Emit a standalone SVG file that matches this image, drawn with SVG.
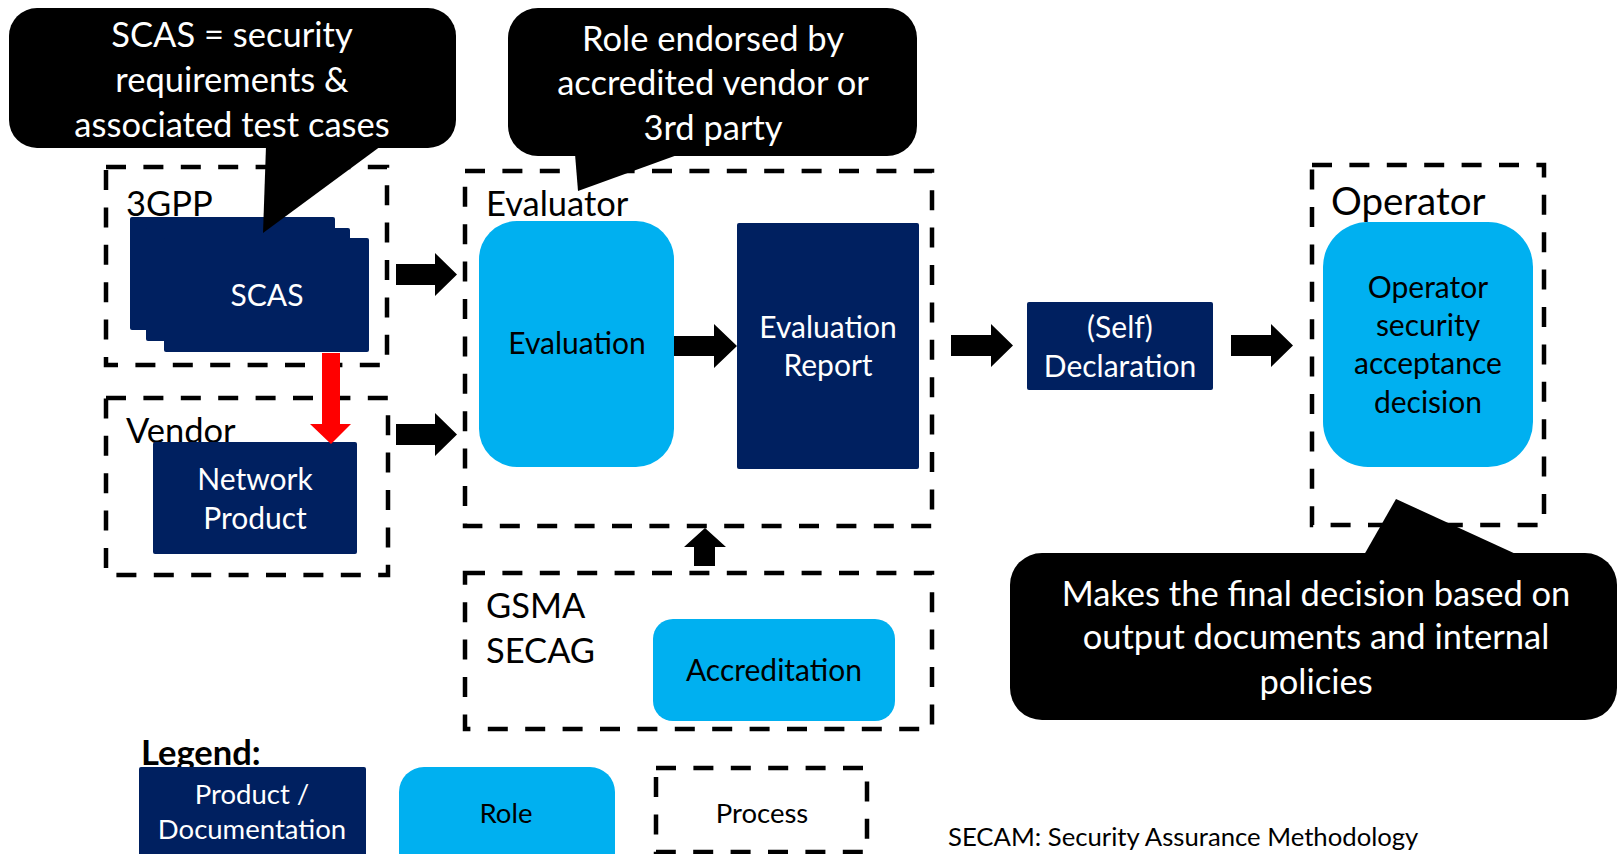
<svg xmlns="http://www.w3.org/2000/svg" width="1619" height="854" viewBox="0 0 1619 854">
<style>
text{font-family:Lato,"Noto Sans",sans-serif}
.proc{fill:none;stroke:#000;stroke-width:4.5;stroke-dasharray:20 17.4}
.doc{fill:#002060}
.role{fill:#00B0F0}
.call{fill:#000}
.t-w{fill:#fff}
.t-b{fill:#000}
.c{text-anchor:middle}
.title{font-size:34.5px}
.lbl{font-size:30px}
.callt{font-size:34.5px;fill:#fff;text-anchor:middle}
.leg{font-size:27.5px}
.arr{fill:#000}
</style>
<rect width="1619" height="854" fill="#fff"/>

<g id="proc-3gpp">
<rect class="proc" x="106" y="167" width="281" height="198"/>
<text class="t-b title" x="126" y="216">3GPP</text>
</g>
<g id="node-scas">
<rect class="doc" x="130" y="217" width="205" height="113" rx="2"/>
<rect class="doc" x="146" y="228" width="204" height="113" rx="2"/>
<rect class="doc" x="164" y="238" width="205" height="114" rx="2"/>
<text class="t-w lbl c" x="267" y="306">SCAS</text>
</g>

<g id="proc-vendor">
<rect class="proc" x="106" y="398" width="282" height="177"/>
<text class="t-b title" x="126" y="443">Vendor</text>
</g>
<g id="node-network-product">
<rect class="doc" x="153" y="442" width="204" height="112" rx="2"/>
<text class="t-w lbl c" x="255" y="490">Network</text>
<text class="t-w lbl c" x="255" y="529">Product</text>
</g>

<g id="proc-evaluator">
<rect class="proc" x="465" y="171" width="467" height="355"/>
<text class="t-b title" x="486" y="216">Evaluator</text>
</g>
<g id="node-evaluation">
<rect class="role" x="479" y="221" width="195" height="246" rx="38"/>
<text class="t-b lbl c" x="577" y="354">Evaluation</text>
</g>
<g id="node-evaluation-report">
<rect class="doc" x="737" y="223" width="182" height="246" rx="2"/>
<text class="t-w lbl c" x="828" y="338">Evaluation</text>
<text class="t-w lbl c" x="828" y="376">Report</text>
</g>

<g id="node-self-declaration">
<rect class="doc" x="1027" y="302" width="186" height="88" rx="2"/>
<text class="t-w lbl c" x="1120" y="338">(Self)</text>
<text class="t-w lbl c" x="1120" y="377">Declaration</text>
</g>

<g id="proc-operator">
<rect class="proc" x="1312" y="165" width="232" height="360"/>
<text class="t-b" x="1331" y="215" style="font-size:38.5px">Operator</text>
</g>
<g id="node-operator-decision">
<rect class="role" x="1323" y="222" width="210" height="245" rx="45"/>
<text class="t-b lbl c" x="1428" y="298">Operator</text>
<text class="t-b lbl c" x="1428" y="336">security</text>
<text class="t-b lbl c" x="1428" y="374">acceptance</text>
<text class="t-b lbl c" x="1428" y="413">decision</text>
</g>

<g id="proc-gsma">
<rect class="proc" x="465" y="573" width="467" height="156"/>
<text class="t-b title" x="486" y="618">GSMA</text>
<text class="t-b title" x="486" y="663">SECAG</text>
</g>
<g id="node-accreditation">
<rect class="role" x="653" y="619" width="242" height="102" rx="20"/>
<text class="t-b lbl c" x="774" y="681">Accreditation</text>
</g>

<g id="callout-scas">
<rect class="call" x="9" y="8" width="447" height="140" rx="28"/>
<polygon class="call" points="266,146 263,233 381,146"/>
<text class="callt" x="232" y="47">SCAS = security</text>
<text class="callt" x="232" y="92">requirements &amp;</text>
<text class="callt" x="232" y="137">associated test cases</text>
</g>
<g id="callout-role">
<rect class="call" x="508" y="8" width="409" height="148" rx="30"/>
<polygon class="call" points="575,154 578,191 680,154"/>
<text class="callt" x="713" y="51">Role endorsed by</text>
<text class="callt" x="713" y="95">accredited vendor or</text>
<text class="callt" x="713" y="140">3rd party</text>
</g>
<g id="callout-operator">
<rect class="call" x="1010" y="553" width="607" height="167" rx="32"/>
<polygon class="call" points="1364,555 1396,499 1518,555"/>
<text class="callt" x="1316" y="606">Makes the final decision based on</text>
<text class="callt" x="1316" y="649">output documents and internal</text>
<text class="callt" x="1316" y="694">policies</text>
</g>

<g id="connectors">
<polygon class="arr" points="396,264 435,264 435,253 457,274.5 435,296 435,285 396,285"/>
<polygon class="arr" points="396,424 435,424 435,413 457,434.5 435,456 435,445 396,445"/>
<polygon class="arr" points="674,336 714,336 714,324 737,346 714,368 714,356 674,356"/>
<polygon class="arr" points="951,335 991,335 991,324 1013,345.5 991,367 991,356 951,356"/>
<polygon class="arr" points="1231,335 1271,335 1271,324 1293,345.5 1271,367 1271,356 1231,356"/>
<polygon class="arr" points="694,566 694,547 684,547 705,528 726,547 715,547 715,566"/>
<polygon fill="#FF0000" points="322,353 340,353 340,424 351,424 331,444 310,424 322,424"/>
</g>

<g id="legend">
<text class="t-b" x="141" y="765" style="font-size:34.5px;font-weight:bold">Legend:</text>
<g id="legend-doc">
<rect class="doc" x="139" y="767" width="227" height="100" rx="2"/>
<text class="t-w c leg" x="252" y="804">Product /</text>
<text class="t-w c leg" x="252" y="839">Documentation</text>
</g>
<g id="legend-role">
<rect class="role" x="399" y="767" width="216" height="110" rx="25"/>
<text class="t-b c leg" x="506" y="823">Role</text>
</g>
<g id="legend-process">
<rect class="proc" x="656" y="768" width="211" height="84"/>
<text class="t-b c leg" x="762" y="823">Process</text>
</g>
</g>

<text class="t-b" x="948" y="846" style="font-size:25.7px">SECAM: Security Assurance Methodology</text>
</svg>
